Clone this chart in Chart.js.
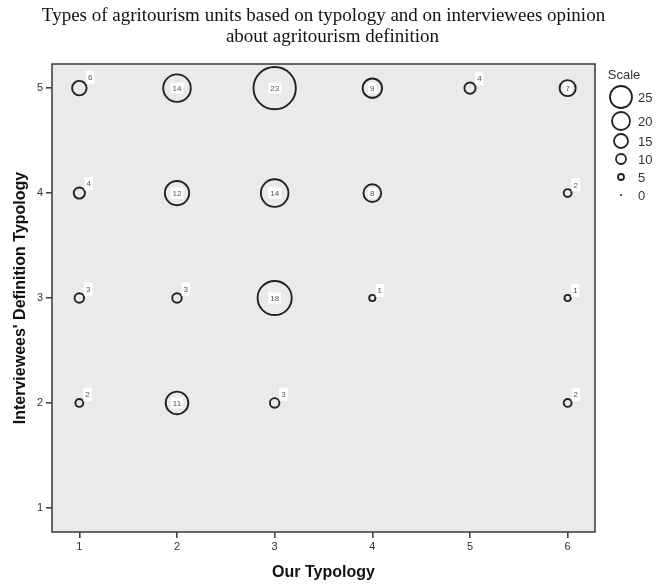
<!DOCTYPE html>
<html>
<head>
<meta charset="utf-8">
<script src="https://cdn.jsdelivr.net/npm/chart.js@4.4.0/dist/chart.umd.min.js"></script>
<style>
  html, body { margin: 0; padding: 0; background: #fff; }
  #wrap { width: 667px; height: 585px; }
</style>
</head>
<body>
<div id="wrap"><canvas id="bubbleChart"></canvas></div>
<script>
// Our Typology (x), Interviewees' Definition Typology (y), number of units
const ourTypology   = [1, 2, 3, 4, 5, 6,   1, 2, 3, 4, 6,   1, 2, 3, 4, 6,   1, 2, 3, 6];
const defTypology   = [5, 5, 5, 5, 5, 5,   4, 4, 4, 4, 4,   3, 3, 3, 3, 3,   2, 2, 2, 2];
const unitCounts    = [6, 14, 23, 9, 4, 7, 4, 12, 14, 8, 2, 3, 3, 18, 1, 1, 2, 11, 3, 2];

const xTicks = [1, 2, 3, 4, 5, 6];
const yTicks = [1, 2, 3, 4, 5];
const scaleLegend = [25, 20, 15, 10, 5, 0];

const titleLines = [
    'Types of agritourism units based on typology and on interviewees opinion',
    'about agritourism definition'
];

const INK = '#222';
const AXIS = '#444';
const SANS = 'Arial, "Liberation Sans", sans-serif';

function bubbleRadius(v) {
    return 2.3 + 0.82 * v;
}

function legendRadius(v) {
    return 1 + 0.4 * v;
}

const points = ourTypology.map((x, i) => ({ x: x, y: defTypology[i], v: unitCounts[i] }));

// serif title over the plot area (second line sits a little right, as in the original)
const chartTitle = {
    id: 'chartTitle',
    afterDraw(chart) {
        const { ctx, chartArea: a } = chart;
        const cx = (a.left + a.right) / 2;
        ctx.save();
        ctx.fillStyle = '#111';
        ctx.font = '19px "Liberation Serif", "Times New Roman", serif';
        ctx.textAlign = 'center';
        ctx.textBaseline = 'middle';
        ctx.fillText(titleLines[0], cx, 16);
        ctx.fillText(titleLines[1], cx + 9, 37);
        ctx.restore();
    }
};

// plot background + frame
const frame = {
    id: 'frame',
    beforeDatasetsDraw(chart) {
        const { ctx, chartArea: a } = chart;
        ctx.save();
        ctx.fillStyle = '#eaeaea';
        ctx.fillRect(a.left, a.top, a.right - a.left, a.bottom - a.top);
        ctx.restore();
    },
    afterDatasetsDraw(chart) {
        const { ctx, chartArea: a } = chart;
        ctx.save();
        ctx.strokeStyle = AXIS;
        ctx.lineWidth = 1.6;
        ctx.strokeRect(a.left, a.top, a.right - a.left, a.bottom - a.top);
        ctx.restore();
    }
};

// small white count labels next to / inside bubbles
const countLabels = {
    id: 'countLabels',
    afterDatasetsDraw(chart) {
        const { ctx } = chart;
        const meta = chart.getDatasetMeta(0);
        ctx.save();
        ctx.font = '8px ' + SANS;
        ctx.textAlign = 'center';
        ctx.textBaseline = 'middle';
        meta.data.forEach((el, i) => {
            const v = points[i].v;
            const r = el.options.radius;
            let cx = el.x, cy = el.y;
            if (v < 7) {
                cx = el.x + 0.8 * r + 5;
                cy = el.y - (0.8 * r + 5);
            }
            const txt = String(v);
            const w = ctx.measureText(txt).width + 4;
            const h = v < 7 ? 13 : 11;
            ctx.fillStyle = '#fff';
            ctx.fillRect(cx - w / 2, cy - h / 2, w, h);
            ctx.fillStyle = '#555';
            ctx.fillText(txt, cx, cy + 0.5);
        });
        ctx.restore();
    }
};

// size legend on the right
const scaleKey = {
    id: 'scaleKey',
    afterDraw(chart) {
        const { ctx, chartArea: a } = chart;
        const cx = a.right + 26;
        ctx.save();
        ctx.fillStyle = '#333';
        ctx.font = '13px ' + SANS;
        ctx.textBaseline = 'middle';
        ctx.textAlign = 'center';
        ctx.fillText('Scale', cx + 3, a.top + 11);
        ctx.textAlign = 'left';
        let y = a.top + 33;
        let prevR = null;
        scaleLegend.forEach(v => {
            const r = legendRadius(v);
            if (prevR !== null) y += Math.max(prevR + r + 4, 18);
            ctx.beginPath();
            ctx.arc(cx, y, r, 0, Math.PI * 2);
            if (v === 0) {
                ctx.fillStyle = INK;
                ctx.fill();
            } else {
                ctx.strokeStyle = INK;
                ctx.lineWidth = 1.8;
                ctx.stroke();
            }
            ctx.fillStyle = '#333';
            ctx.fillText(String(v), cx + 17, y + 1);
            prevR = r;
        });
        ctx.restore();
    }
};

new Chart(document.getElementById('bubbleChart').getContext('2d'), {
    type: 'bubble',
    data: {
        datasets: [{
            data: points,
            backgroundColor: 'rgba(0,0,0,0)',
            borderColor: INK,
            borderWidth: 1.9,
            radius: ctx => bubbleRadius(ctx.raw.v),
            hoverRadius: 0
        }]
    },
    options: {
        responsive: true,
        maintainAspectRatio: false,
        animation: false,
        events: [],
        layout: { padding: { top: 64, right: 72, bottom: 0, left: 0 } },
        plugins: {
            legend: { display: false },
            tooltip: { enabled: false },
            title: { display: false }
        },
        scales: {
            x: {
                type: 'linear',
                min: 0.72,
                max: 6.28,
                afterFit: s => { s.height = 53; },
                afterBuildTicks: s => { s.ticks = xTicks.map(v => ({ value: v })); },
                ticks: { color: '#333', font: { family: SANS, size: 11 }, padding: 2 },
                grid: { drawOnChartArea: false, drawTicks: true, tickLength: 6, color: AXIS, lineWidth: 1.6 },
                border: { display: false },
                title: {
                    display: true,
                    text: 'Our Typology',
                    color: '#111',
                    font: { family: SANS, size: 16, weight: 'bold', lineHeight: 1.2 },
                    padding: { top: 0, bottom: 3 }
                }
            },
            y: {
                type: 'linear',
                min: 0.77,
                max: 5.23,
                afterFit: s => { s.width = 52; },
                afterBuildTicks: s => { s.ticks = yTicks.map(v => ({ value: v })); },
                ticks: { color: '#333', font: { family: SANS, size: 11 }, padding: 3 },
                grid: { drawOnChartArea: false, drawTicks: true, tickLength: 6, color: AXIS, lineWidth: 1.6 },
                border: { display: false },
                title: {
                    display: true,
                    text: "Interviewees' Definition Typology",
                    color: '#111',
                    font: { family: SANS, size: 16, weight: 'bold', lineHeight: 1.2 },
                    padding: { top: 11, bottom: 0 }
                }
            }
        }
    },
    plugins: [frame, countLabels, scaleKey, chartTitle]
});
</script>
</body>
</html>
